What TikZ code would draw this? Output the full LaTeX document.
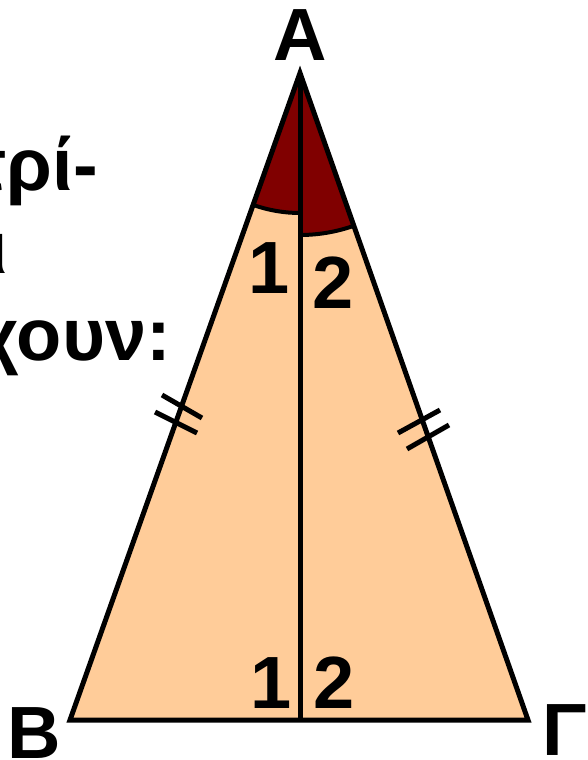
\documentclass[tikz,border=0pt]{standalone}
\usepackage{fontspec}
\setmainfont{Liberation Sans}
\usetikzlibrary{calc}
\definecolor{peach}{RGB}{255,204,153}
\definecolor{darkred}{RGB}{128,0,0}
\tikzset{
  lbl/.style={inner sep=0pt, outer sep=0pt, font=\fontsize{74}{80}\selectfont\bfseries},
  edge/.style={line width=5pt, line join=miter, black},
  tick/.style={line width=5pt, black},
  arcline/.style={line width=4pt, black}
}
\begin{document}
\begin{tikzpicture}[x=1pt,y=-1pt]
\useasboundingbox (0,0) rectangle (587,760);
\clip (0,0) rectangle (587,760);
\coordinate (A) at (300,73);
\coordinate (B) at (70,720);
\coordinate (G) at (528,720);
\coordinate (M) at (300,720);
% fill
\fill[peach] (A) -- (B) -- (G) -- cycle;
% angle sectors
\fill[darkred] (A) -- ($(A)+(109.57:140)$) arc[start angle=109.57,end angle=90,radius=140] -- cycle;
\fill[darkred] (A) -- ($(A)+(90:162)$) arc[start angle=90,end angle=70.67,radius=162] -- cycle;
\draw[arcline] ($(A)+(109.57:140)$) arc[start angle=109.57,end angle=90,radius=140];
\draw[arcline] ($(A)+(90:162)$) arc[start angle=90,end angle=70.67,radius=162];
% median
\draw[edge] (A) -- (M);
% triangle
\draw[edge] (A) -- (B) -- (G) -- cycle;
% ticks
\draw[tick] (162,395) -- (202,418);
\draw[tick] (155,412) -- (197,433);
\draw[tick] (398,433) -- (440,410);
\draw[tick] (407,449) -- (449,425);
% labels
\node[lbl, anchor=base] (lA) at (300,60) {A};
\node[lbl, anchor=base west] (lB) at (8,758) {B};
\node[lbl, anchor=base west] (lG) at (542,755) {Γ};
\node[lbl, anchor=base] (t1) at (269,293) {1};
\node[lbl, anchor=base] (t2) at (333.5,308) {2};
\node[lbl, anchor=base] (b1) at (271,708) {1};
\node[lbl, anchor=base] (b2) at (334,708) {2};
% partial text on the left
\node[lbl, anchor=base east] (txt1) at (98,190) {τρί-};
\node[lbl, anchor=base east] (txt2) at (8,273) {και};
\node[lbl, anchor=base east] (txt3) at (171,360) {έχουν:};
\end{tikzpicture}
\end{document}
